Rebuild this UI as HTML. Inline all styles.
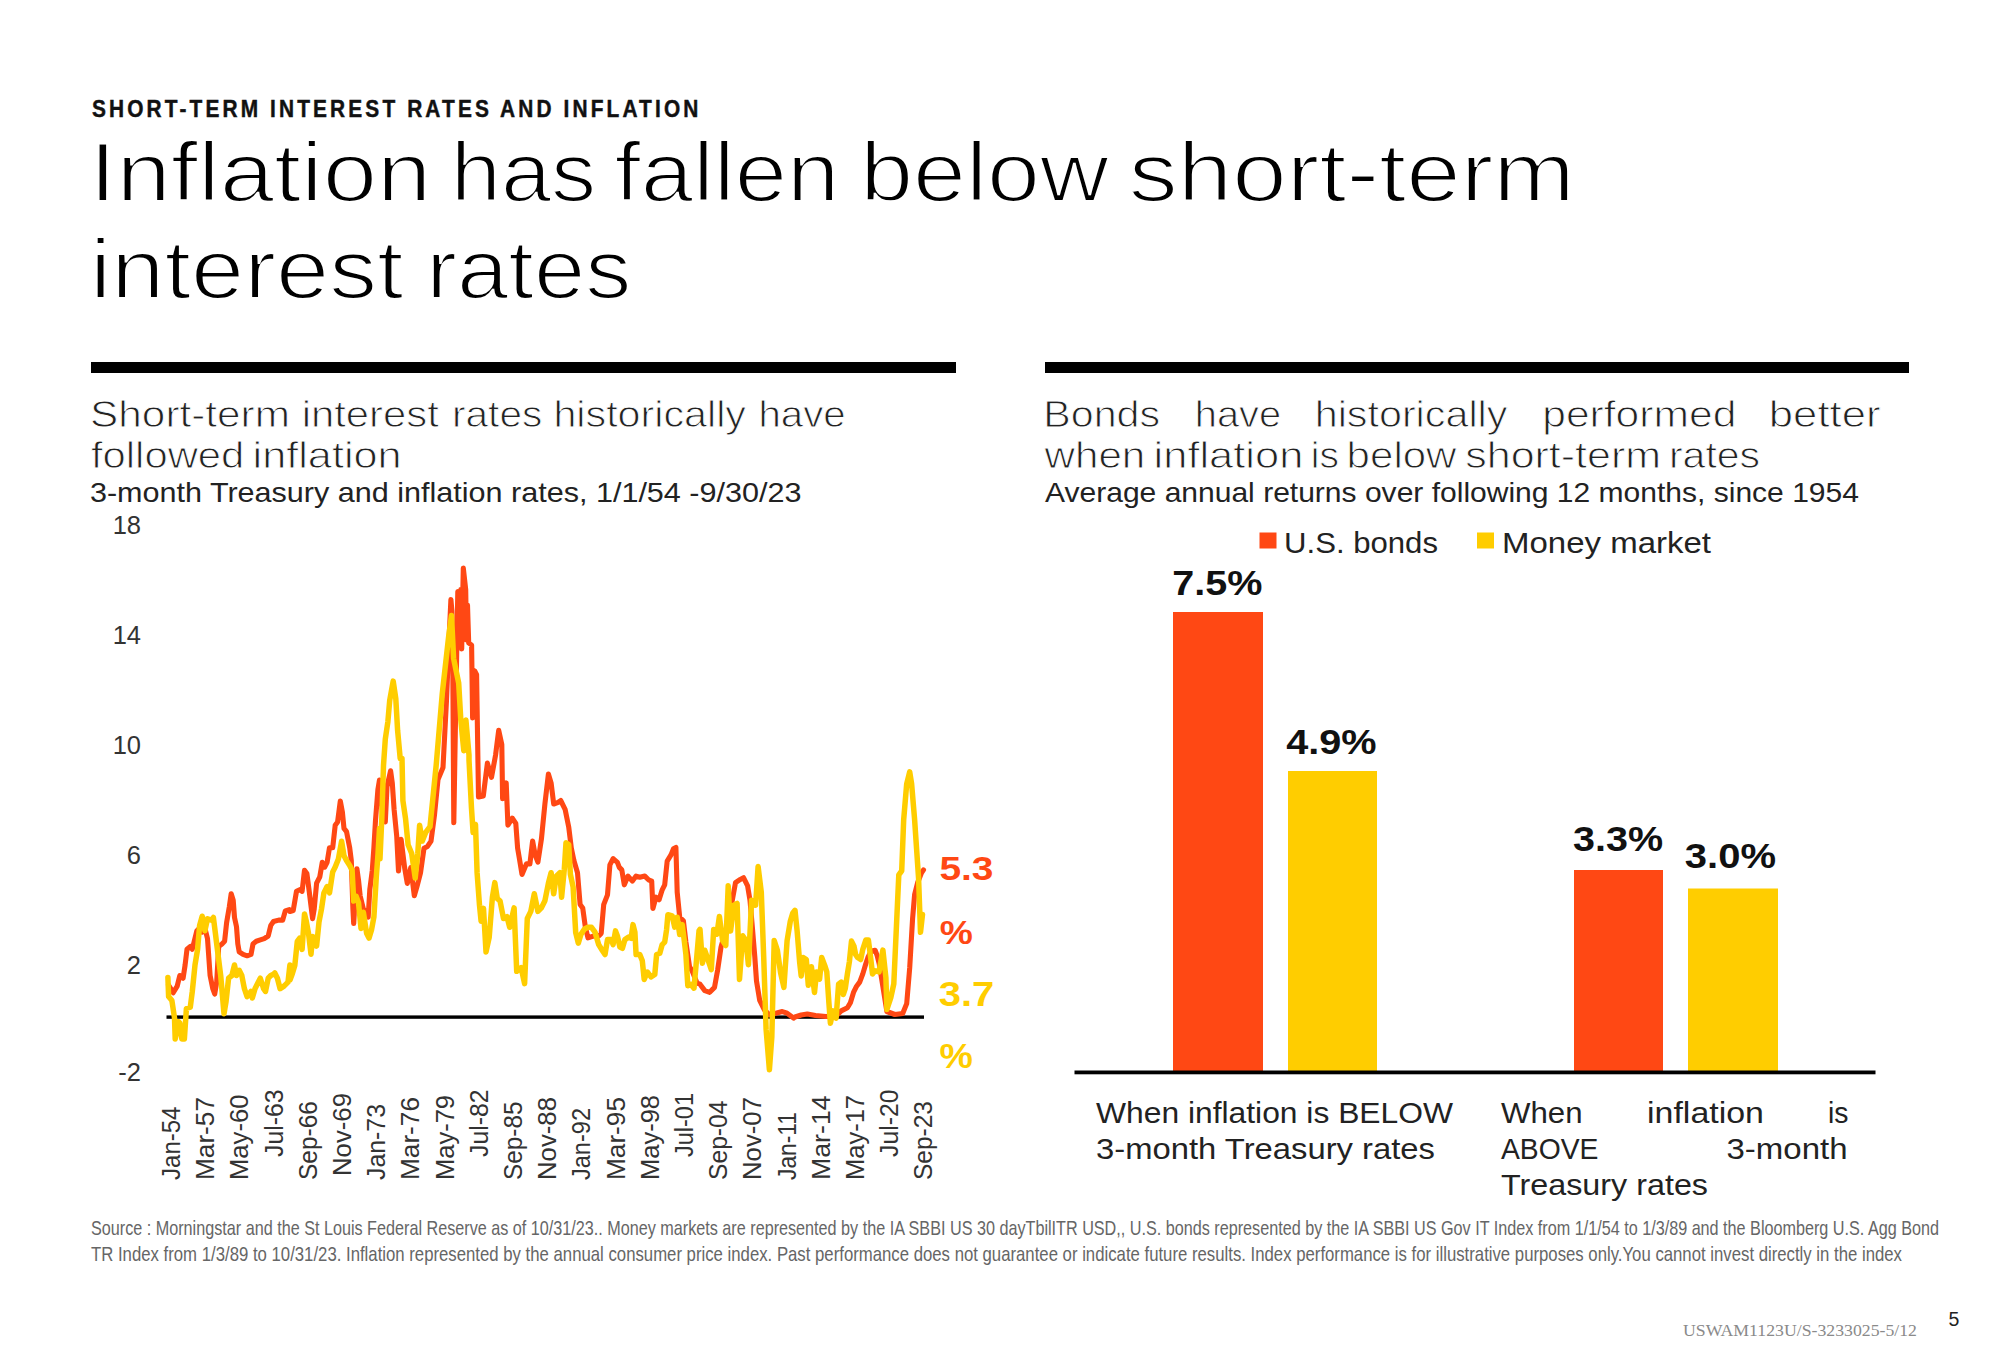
<!DOCTYPE html>
<html><head><meta charset="utf-8"><title>Inflation has fallen below short-term interest rates</title>
<style>
html,body{margin:0;padding:0;background:#fff;}
body{width:2000px;height:1364px;overflow:hidden;font-family:"Liberation Sans", sans-serif;}
svg{display:block;font-family:"Liberation Sans", sans-serif;}
</style></head>
<body>
<svg width="2000" height="1364" viewBox="0 0 2000 1364">
<rect width="2000" height="1364" fill="#fff"/>
<g transform="translate(92,117) scale(0.88,1)"><text x="0" y="0" font-size="23.7" font-weight="bold" fill="#111" stroke="#111" stroke-width="0.45" textLength="689" lengthAdjust="spacing">SHORT-TERM INTEREST RATES AND INFLATION</text></g>
<text x="89.39" y="201.3" font-size="84" fill="#000" textLength="342.07" lengthAdjust="spacingAndGlyphs"  stroke="#fff" stroke-width="2.2">Inflation</text>
<text x="450.72" y="201.3" font-size="84" fill="#000" textLength="145.54" lengthAdjust="spacingAndGlyphs"  stroke="#fff" stroke-width="2.2">has</text>
<text x="614.5" y="201.3" font-size="84" fill="#000" textLength="224.84" lengthAdjust="spacingAndGlyphs"  stroke="#fff" stroke-width="2.2">fallen</text>
<text x="860.18" y="201.3" font-size="84" fill="#000" textLength="248.41" lengthAdjust="spacingAndGlyphs"  stroke="#fff" stroke-width="2.2">below</text>
<text x="1128.78" y="201.3" font-size="84" fill="#000" textLength="446.11" lengthAdjust="spacingAndGlyphs"  stroke="#fff" stroke-width="2.2">short-term</text>
<text x="90.14" y="297.7" font-size="84" fill="#000" textLength="313.5" lengthAdjust="spacingAndGlyphs"  stroke="#fff" stroke-width="2.2">interest</text>
<text x="426.36" y="297.7" font-size="84" fill="#000" textLength="205.03" lengthAdjust="spacingAndGlyphs"  stroke="#fff" stroke-width="2.2">rates</text>
<rect x="91" y="362" width="865" height="11" fill="#000"/>
<rect x="1045" y="362" width="864" height="11" fill="#000"/>
<text x="90.11" y="426.65" font-size="36.3" fill="#222" textLength="199.81" lengthAdjust="spacingAndGlyphs"  stroke="#fff" stroke-width="0.9">Short-term</text>
<text x="301.66" y="426.65" font-size="36.3" fill="#222" textLength="137.21" lengthAdjust="spacingAndGlyphs"  stroke="#fff" stroke-width="0.9">interest</text>
<text x="452.05" y="426.65" font-size="36.3" fill="#222" textLength="90.19" lengthAdjust="spacingAndGlyphs"  stroke="#fff" stroke-width="0.9">rates</text>
<text x="553.4" y="426.65" font-size="36.3" fill="#222" textLength="192.59" lengthAdjust="spacingAndGlyphs"  stroke="#fff" stroke-width="0.9">historically</text>
<text x="758.47" y="426.65" font-size="36.3" fill="#222" textLength="87.26" lengthAdjust="spacingAndGlyphs"  stroke="#fff" stroke-width="0.9">have</text>
<text x="90.97" y="468.25" font-size="36.3" fill="#222" textLength="153.36" lengthAdjust="spacingAndGlyphs"  stroke="#fff" stroke-width="0.9">followed</text>
<text x="252.57" y="468.25" font-size="36.3" fill="#222" textLength="149.1" lengthAdjust="spacingAndGlyphs"  stroke="#fff" stroke-width="0.9">inflation</text>
<text x="89.93" y="501.6" font-size="28.5" fill="#222" textLength="711.51" lengthAdjust="spacingAndGlyphs" >3-month Treasury and inflation rates, 1/1/54 -9/30/23</text>
<text x="1043.34" y="426.65" font-size="36.3" fill="#222" textLength="116.77" lengthAdjust="spacingAndGlyphs"  stroke="#fff" stroke-width="0.9">Bonds</text>
<text x="1194.8" y="426.65" font-size="36.3" fill="#222" textLength="86.41" lengthAdjust="spacingAndGlyphs"  stroke="#fff" stroke-width="0.9">have</text>
<text x="1314.7" y="426.65" font-size="36.3" fill="#222" textLength="192.69" lengthAdjust="spacingAndGlyphs"  stroke="#fff" stroke-width="0.9">historically</text>
<text x="1542.21" y="426.65" font-size="36.3" fill="#222" textLength="194.13" lengthAdjust="spacingAndGlyphs"  stroke="#fff" stroke-width="0.9">performed</text>
<text x="1768.84" y="426.65" font-size="36.3" fill="#222" textLength="111.64" lengthAdjust="spacingAndGlyphs"  stroke="#fff" stroke-width="0.9">better</text>
<text x="1044.55" y="468.25" font-size="36.3" fill="#222" textLength="100.7" lengthAdjust="spacingAndGlyphs"  stroke="#fff" stroke-width="0.9">when</text>
<text x="1153.55" y="468.25" font-size="36.3" fill="#222" textLength="149.83" lengthAdjust="spacingAndGlyphs"  stroke="#fff" stroke-width="0.9">inflation</text>
<text x="1310.86" y="468.25" font-size="36.3" fill="#222" textLength="28.12" lengthAdjust="spacingAndGlyphs"  stroke="#fff" stroke-width="0.9">is</text>
<text x="1346.64" y="468.25" font-size="36.3" fill="#222" textLength="109.87" lengthAdjust="spacingAndGlyphs"  stroke="#fff" stroke-width="0.9">below</text>
<text x="1465.26" y="468.25" font-size="36.3" fill="#222" textLength="195.83" lengthAdjust="spacingAndGlyphs"  stroke="#fff" stroke-width="0.9">short-term</text>
<text x="1668.92" y="468.25" font-size="36.3" fill="#222" textLength="91.24" lengthAdjust="spacingAndGlyphs"  stroke="#fff" stroke-width="0.9">rates</text>
<text x="1045.0" y="501.75" font-size="28.5" fill="#222" textLength="813.95" lengthAdjust="spacingAndGlyphs" >Average annual returns over following 12 months, since 1954</text>
<rect x="1259.5" y="532.5" width="17" height="16" fill="#FF4814"/>
<text x="1284" y="553" font-size="30" fill="#222" textLength="154" lengthAdjust="spacingAndGlyphs" >U.S. bonds</text>
<rect x="1477" y="532.5" width="17" height="16" fill="#FFCD00"/>
<text x="1502" y="553" font-size="30" fill="#222" textLength="209" lengthAdjust="spacingAndGlyphs" >Money market</text>
<rect x="1173" y="612" width="90" height="460" fill="#FF4814"/>
<rect x="1288" y="771" width="89" height="301" fill="#FFCD00"/>
<rect x="1574" y="870" width="89" height="202" fill="#FF4814"/>
<rect x="1688" y="888.5" width="90" height="183.5" fill="#FFCD00"/>
<rect x="1074.5" y="1070.5" width="801" height="3.8" fill="#000"/>
<text x="1172.34" y="595" font-size="35.8" fill="#111" font-weight="bold" textLength="90.15" lengthAdjust="spacingAndGlyphs" >7.5%</text>
<text x="1286.25" y="754.2" font-size="35.8" fill="#111" font-weight="bold" textLength="90.35" lengthAdjust="spacingAndGlyphs" >4.9%</text>
<text x="1573.07" y="850.7" font-size="35.8" fill="#111" font-weight="bold" textLength="90.02" lengthAdjust="spacingAndGlyphs" >3.3%</text>
<text x="1684.86" y="867.5" font-size="35.8" fill="#111" font-weight="bold" textLength="91.14" lengthAdjust="spacingAndGlyphs" >3.0%</text>
<text x="1096" y="1123.2" font-size="29.5" fill="#222" textLength="357" lengthAdjust="spacingAndGlyphs" >When inflation is BELOW</text>
<text x="1096" y="1159.2" font-size="29.5" fill="#222" textLength="339" lengthAdjust="spacingAndGlyphs" >3-month Treasury rates</text>
<text x="1501" y="1123.3" font-size="29.5" fill="#222" textLength="81.5" lengthAdjust="spacingAndGlyphs" >When</text>
<text x="1647" y="1123.3" font-size="29.5" fill="#222" textLength="117" lengthAdjust="spacingAndGlyphs" >inflation</text>
<text x="1828" y="1123.3" font-size="29.5" fill="#222" textLength="20.5" lengthAdjust="spacingAndGlyphs" >is</text>
<text x="1501" y="1158.8" font-size="29.5" fill="#222" textLength="97.5" lengthAdjust="spacingAndGlyphs" >ABOVE</text>
<text x="1726.5" y="1158.8" font-size="29.5" fill="#222" textLength="121.0" lengthAdjust="spacingAndGlyphs" >3-month</text>
<text x="1501" y="1194.5" font-size="29.5" fill="#222" textLength="207" lengthAdjust="spacingAndGlyphs" >Treasury rates</text>
<text x="141" y="533.7" font-size="25.5" fill="#333" text-anchor="end" >18</text>
<text x="141" y="644" font-size="25.5" fill="#333" text-anchor="end" >14</text>
<text x="141" y="754" font-size="25.5" fill="#333" text-anchor="end" >10</text>
<text x="141" y="864" font-size="25.5" fill="#333" text-anchor="end" >6</text>
<text x="141" y="973.5" font-size="25.5" fill="#333" text-anchor="end" >2</text>
<text x="141" y="1081.4" font-size="25.5" fill="#333" text-anchor="end" >-2</text>
<rect x="166.5" y="1015.4" width="757.5" height="3.4" fill="#000"/>
<polyline points="168.5,985.0 173.2,992.7 177.2,986.1 179.8,975.5 183.1,978.2 185.1,965.0 187.0,949.2 190.3,946.5 192.3,949.2 194.3,941.2 196.9,930.7 199.6,928.0 202.2,932.0 204.9,928.0 207.5,938.6 210.1,975.5 212.8,988.7 214.7,994.0 216.7,982.1 218.7,946.5 222.0,943.9 224.6,941.2 226.6,922.8 229.3,906.9 231.2,893.7 233.2,900.3 234.5,917.5 236.5,926.7 237.8,943.9 239.2,951.8 243.1,954.4 247.1,955.8 251.0,954.4 253.0,943.9 256.3,941.2 260.3,939.9 264.2,938.6 268.2,936.0 270.8,925.4 273.5,921.5 278.7,920.1 282.7,920.1 285.3,910.9 289.3,909.6 290.0,911.5 293.2,910.6 296.5,891.3 299.7,889.7 302.1,891.3 304.5,870.3 306.9,873.5 309.4,892.9 312.6,918.7 314.2,909.0 316.6,883.2 319.8,876.8 322.3,862.3 324.7,867.1 327.1,862.3 329.5,847.7 332.7,847.7 335.2,825.2 337.6,821.9 340.3,801.0 342.4,812.3 344.0,828.4 346.5,831.6 349.7,847.7 351.3,860.6 352.9,909.0 353.7,923.5 355.3,896.1 356.9,868.7 358.5,880.0 360.2,896.1 363.4,909.0 365.8,910.6 368.2,917.1 369.8,889.7 372.3,870.3 373.9,847.7 375.5,820.3 377.9,789.7 379.5,780.0 380.0,783.1 382.6,814.8 385.3,821.8 387.0,786.6 390.6,770.8 392.3,783.1 394.1,809.5 396.7,835.9 398.5,871.0 401.1,839.4 404.6,867.5 407.3,883.4 410.8,867.5 414.3,895.7 416.9,886.9 420.5,872.8 424.0,848.2 427.5,846.4 431.0,841.1 434.5,814.8 438.0,779.6 443.0,767.5 446.5,700.0 449.0,640.0 450.9,599.5 451.9,611.0 452.8,668.7 453.8,822.8 455.5,720.0 457.8,591.6 459.3,640.0 460.8,589.6 461.7,649.0 463.3,568.0 465.7,589.6 466.5,640.0 467.5,605.0 468.7,643.0 471.6,645.0 472.6,718.0 474.6,670.7 476.6,674.6 478.5,797.0 483.3,795.9 487.4,763.1 491.5,777.4 495.6,754.9 498.7,730.3 501.8,744.6 502.6,798.7 506.2,782.9 507.9,825.1 512.3,818.1 515.8,823.4 517.6,848.0 519.4,858.6 522.0,874.4 526.4,863.9 529.9,863.9 532.6,841.0 535.2,855.1 537.9,862.1 541.4,839.2 544.9,804.0 548.4,774.1 551.1,782.9 553.7,804.0 558.1,802.3 560.7,800.5 565.1,809.3 568.7,826.9 571.3,848.0 573.9,860.4 577.5,872.7 580.1,904.4 582.7,907.9 585.4,927.3 588.0,937.8 593.3,936.1 598.7,935.9 601.2,933.4 603.7,904.7 607.5,894.8 609.9,864.9 613.1,858.6 617.4,862.4 619.3,867.4 621.8,869.9 624.3,884.8 628.0,876.1 632.4,881.1 636.1,876.1 639.8,877.3 644.8,876.1 648.5,879.8 651.7,881.1 652.9,908.5 656.0,897.2 659.1,899.7 662.2,889.8 664.7,884.8 667.2,861.1 671.0,854.9 673.5,848.7 675.9,847.4 677.2,892.3 679.7,917.2 683.4,920.9 685.9,942.1 689.6,967.0 692.1,970.7 697.1,983.2 700.0,984.2 704.8,990.6 709.7,992.3 714.5,987.4 717.7,969.7 721.0,947.1 727.4,924.5 732.3,900.3 735.5,882.6 740.3,879.4 743.5,877.7 747.6,885.8 750.0,900.3 752.4,927.7 754.8,956.8 756.5,981.0 759.7,1000.3 764.5,1010.0 769.4,1014.8 775.8,1013.2 782.3,1011.6 787.1,1013.2 793.5,1018.1 795.0,1017.0 801.2,1015.0 807.3,1014.0 815.5,1015.5 825.8,1016.5 836.1,1016.0 841.2,1010.9 847.4,1007.8 850.4,1002.7 853.5,992.4 856.6,986.2 859.7,982.1 862.8,973.9 865.8,963.7 867.9,957.5 871.0,951.3 875.1,950.3 877.1,955.4 879.2,963.7 886.9,1011.5 894.8,1014.5 902.7,1013.5 906.7,1003.6 909.7,967.9 912.6,918.4 914.6,894.7 917.6,882.8 921.5,872.9 923.5,869.9" fill="none" stroke="#FF4814" stroke-width="5.1" stroke-linejoin="round" stroke-linecap="round"/>
<polyline points="167.9,977.5 168.6,996.6 171.9,1000.6 174.5,1017.8 175.2,1038.9 178.5,1021.7 179.8,1023.0 181.8,1038.9 184.4,1038.9 186.4,1008.5 190.3,1007.2 192.3,991.4 195.0,965.0 197.6,949.2 199.6,925.4 202.2,916.2 204.9,930.7 207.5,918.8 211.5,920.1 213.4,917.5 215.4,933.3 218.0,954.4 220.7,975.5 224.0,1013.8 226.0,1001.9 228.6,978.2 231.9,975.5 234.5,965.0 236.5,975.5 239.2,970.3 241.8,975.5 244.4,988.7 247.1,996.6 251.0,991.4 252.3,998.0 255.0,988.7 257.6,983.5 260.3,978.2 263.6,988.7 265.5,991.4 268.2,978.2 270.8,975.5 273.5,974.2 274.8,972.9 277.4,978.2 280.1,988.7 284.0,986.1 288.0,982.1 289.9,965.0 290.0,980.0 292.4,973.5 294.8,965.5 297.3,941.3 299.7,938.1 302.1,949.4 304.5,913.9 306.1,920.3 308.5,933.2 311.0,954.2 312.6,936.5 315.0,938.1 316.6,946.1 319.0,921.9 321.5,909.0 323.9,892.9 327.1,886.5 329.5,892.9 332.7,871.9 335.2,867.1 338.4,859.0 341.6,841.3 344.0,855.8 346.5,860.6 349.7,865.5 352.1,870.3 353.7,901.0 356.1,896.1 358.5,902.6 361.0,928.4 363.4,912.3 366.6,933.2 369.0,938.1 371.5,930.0 373.9,917.1 376.3,876.8 377.9,855.8 379.5,828.4 380.0,858.7 381.8,818.3 383.5,765.5 385.3,739.1 387.9,721.6 389.7,700.5 393.2,681.1 395.8,698.7 397.6,730.3 400.2,758.5 402.0,758.5 402.9,800.7 405.5,818.3 408.1,844.7 411.7,853.5 415.2,878.1 417.8,853.5 419.6,825.3 422.2,841.1 425.7,832.4 430.0,826.7 436.2,765.1 442.3,693.3 448.5,637.9 451.5,615.4 453.6,658.5 458.7,683.1 460.8,720.0 463.8,750.8 465.9,720.0 469.0,754.9 469.0,760.0 471.5,808.4 473.1,832.6 475.5,824.5 477.1,872.9 479.5,905.2 481.1,921.3 483.5,908.4 486.0,951.9 489.2,937.4 492.4,897.1 494.8,882.6 497.3,898.7 500.0,900.8 503.5,918.5 507.0,916.7 509.7,927.3 514.1,907.9 516.7,971.3 521.1,967.7 524.6,983.6 527.3,918.5 530.8,911.4 534.3,893.8 537.9,911.4 541.4,907.9 544.9,900.8 548.4,883.2 551.1,872.7 553.7,893.8 556.3,876.2 559.9,872.7 561.6,897.3 564.3,869.2 566.0,842.7 568.7,844.5 570.4,874.4 573.1,886.8 575.7,932.5 578.3,943.1 581.0,934.3 584.5,929.0 588.0,927.3 591.5,927.3 595.0,932.1 598.7,944.6 602.5,950.8 605.0,954.5 607.5,939.6 611.2,939.6 613.1,944.6 615.5,930.9 617.4,935.9 619.9,947.1 622.4,948.3 624.9,939.6 628.6,937.1 631.1,938.3 633.0,924.6 634.9,932.1 636.1,954.5 639.8,954.5 642.3,960.8 644.2,979.4 647.3,972.0 651.0,976.9 654.8,974.5 656.6,954.5 659.8,953.3 662.2,944.6 664.7,942.1 666.6,929.6 667.9,914.7 672.2,915.9 674.7,927.1 677.2,917.2 679.7,934.6 682.2,924.6 684.0,938.3 685.9,954.5 687.8,985.7 690.9,984.4 694.0,988.2 695.9,967.0 699.0,930.9 700.0,929.4 702.4,963.2 704.8,950.3 708.1,960.0 711.3,969.7 713.7,929.4 716.9,934.2 719.4,916.5 722.6,940.6 725.8,945.5 728.2,885.8 730.6,931.0 733.9,905.2 737.1,903.5 739.5,979.4 742.7,935.8 746.0,940.6 748.4,964.8 751.6,900.3 755.6,905.2 758.1,866.5 761.3,892.3 763.7,956.8 766.1,1029.4 769.4,1069.7 771.8,1037.4 774.2,940.6 777.4,950.3 780.6,972.9 783.9,987.4 787.1,940.6 790.3,921.3 792.7,913.2 795.0,910.3 797.1,930.8 799.6,961.6 801.2,976.0 803.2,957.5 806.3,959.5 808.3,985.2 811.4,966.7 814.5,992.4 816.6,971.9 819.6,979.1 821.7,957.5 824.8,965.7 826.8,971.9 828.9,1002.7 830.4,1023.2 833.0,1010.9 836.1,1018.1 838.6,984.2 841.2,982.1 843.3,994.5 845.3,988.3 847.4,973.9 849.4,961.6 851.5,941.1 854.0,946.2 855.6,954.4 857.6,957.5 860.7,959.5 862.8,949.3 865.8,940.0 868.4,940.0 870.5,956.5 872.5,973.9 875.1,970.8 879.0,971.9 882.9,950.1 885.9,977.8 886.9,1009.5 890.8,997.6 893.8,983.8 896.8,918.4 898.8,874.9 901.7,870.9 903.7,819.4 906.7,783.8 909.7,771.9 911.6,783.8 914.6,819.4 916.6,849.1 918.6,878.8 920.5,932.3 922.5,914.5" fill="none" stroke="#FFCD00" stroke-width="5.5" stroke-linejoin="round" stroke-linecap="round"/>
<text x="939.46" y="880.3" font-size="34" fill="#FF4814" font-weight="bold" textLength="53.99" lengthAdjust="spacingAndGlyphs" >5.3</text>
<text x="939.78" y="943.5" font-size="34" fill="#FF4814" font-weight="bold" textLength="33.09" lengthAdjust="spacingAndGlyphs" >%</text>
<text x="938.74" y="1005.8" font-size="35" fill="#FFCD00" font-weight="bold" textLength="55.56" lengthAdjust="spacingAndGlyphs" >3.7</text>
<text x="939.6" y="1068.2" font-size="35" fill="#FFCD00" font-weight="bold" textLength="33.34" lengthAdjust="spacingAndGlyphs" >%</text>
<text transform="translate(180.0,1180) rotate(-90)" x="0" y="0" font-size="25.5" fill="#333" textLength="73.5" lengthAdjust="spacingAndGlyphs">Jan-54</text>
<text transform="translate(214.2,1180) rotate(-90)" x="0" y="0" font-size="25.5" fill="#333" textLength="83.0" lengthAdjust="spacingAndGlyphs">Mar-57</text>
<text transform="translate(248.4,1180) rotate(-90)" x="0" y="0" font-size="25.5" fill="#333" textLength="85.5" lengthAdjust="spacingAndGlyphs">May-60</text>
<text transform="translate(282.6,1157) rotate(-90)" x="0" y="0" font-size="25.5" fill="#333" textLength="67.5" lengthAdjust="spacingAndGlyphs">Jul-63</text>
<text transform="translate(316.8,1180) rotate(-90)" x="0" y="0" font-size="25.5" fill="#333" textLength="79.0" lengthAdjust="spacingAndGlyphs">Sep-66</text>
<text transform="translate(351.0,1176) rotate(-90)" x="0" y="0" font-size="25.5" fill="#333" textLength="83.0" lengthAdjust="spacingAndGlyphs">Nov-69</text>
<text transform="translate(385.2,1180) rotate(-90)" x="0" y="0" font-size="25.5" fill="#333" textLength="76.0" lengthAdjust="spacingAndGlyphs">Jan-73</text>
<text transform="translate(419.4,1180) rotate(-90)" x="0" y="0" font-size="25.5" fill="#333" textLength="83.0" lengthAdjust="spacingAndGlyphs">Mar-76</text>
<text transform="translate(453.6,1180) rotate(-90)" x="0" y="0" font-size="25.5" fill="#333" textLength="85.0" lengthAdjust="spacingAndGlyphs">May-79</text>
<text transform="translate(487.8,1157) rotate(-90)" x="0" y="0" font-size="25.5" fill="#333" textLength="67.5" lengthAdjust="spacingAndGlyphs">Jul-82</text>
<text transform="translate(522.0,1180) rotate(-90)" x="0" y="0" font-size="25.5" fill="#333" textLength="78.5" lengthAdjust="spacingAndGlyphs">Sep-85</text>
<text transform="translate(556.2,1180) rotate(-90)" x="0" y="0" font-size="25.5" fill="#333" textLength="83.0" lengthAdjust="spacingAndGlyphs">Nov-88</text>
<text transform="translate(590.4,1180) rotate(-90)" x="0" y="0" font-size="25.5" fill="#333" textLength="72.0" lengthAdjust="spacingAndGlyphs">Jan-92</text>
<text transform="translate(624.6,1180) rotate(-90)" x="0" y="0" font-size="25.5" fill="#333" textLength="83.0" lengthAdjust="spacingAndGlyphs">Mar-95</text>
<text transform="translate(658.8,1180) rotate(-90)" x="0" y="0" font-size="25.5" fill="#333" textLength="85.0" lengthAdjust="spacingAndGlyphs">May-98</text>
<text transform="translate(693.0,1157) rotate(-90)" x="0" y="0" font-size="25.5" fill="#333" textLength="64.0" lengthAdjust="spacingAndGlyphs">Jul-01</text>
<text transform="translate(727.2,1180) rotate(-90)" x="0" y="0" font-size="25.5" fill="#333" textLength="79.5" lengthAdjust="spacingAndGlyphs">Sep-04</text>
<text transform="translate(761.4,1180) rotate(-90)" x="0" y="0" font-size="25.5" fill="#333" textLength="83.0" lengthAdjust="spacingAndGlyphs">Nov-07</text>
<text transform="translate(795.6,1180) rotate(-90)" x="0" y="0" font-size="25.5" fill="#333" textLength="68.0" lengthAdjust="spacingAndGlyphs">Jan-11</text>
<text transform="translate(829.8,1180) rotate(-90)" x="0" y="0" font-size="25.5" fill="#333" textLength="84.6" lengthAdjust="spacingAndGlyphs">Mar-14</text>
<text transform="translate(864.0,1180) rotate(-90)" x="0" y="0" font-size="25.5" fill="#333" textLength="85.0" lengthAdjust="spacingAndGlyphs">May-17</text>
<text transform="translate(898.2,1157) rotate(-90)" x="0" y="0" font-size="25.5" fill="#333" textLength="67.6" lengthAdjust="spacingAndGlyphs">Jul-20</text>
<text transform="translate(932.4,1180) rotate(-90)" x="0" y="0" font-size="25.5" fill="#333" textLength="79.0" lengthAdjust="spacingAndGlyphs">Sep-23</text>
<text x="91" y="1235" font-size="20.8" fill="#666" textLength="1848" lengthAdjust="spacingAndGlyphs" >Source : Morningstar and the St Louis Federal Reserve as of 10/31/23.. Money markets are represented by the IA SBBI US 30 dayTbilITR USD,, U.S. bonds represented by the IA SBBI US Gov IT Index from 1/1/54 to 1/3/89 and the Bloomberg U.S. Agg Bond</text>
<text x="91" y="1261" font-size="20.8" fill="#666" textLength="1811" lengthAdjust="spacingAndGlyphs" >TR Index from 1/3/89 to 10/31/23. Inflation represented by the annual consumer price index. Past performance does not guarantee or indicate future results. Index performance is for illustrative purposes only.You cannot invest directly in the index</text>
<text x="1683" y="1335.6" font-size="17.5" fill="#8a8a8a" textLength="234" lengthAdjust="spacingAndGlyphs" font-family='"Liberation Serif", serif' >USWAM1123U/S-3233025-5/12</text>
<text x="1948.5" y="1326" font-size="19.5" fill="#222" >5</text>
</svg>
</body></html>
